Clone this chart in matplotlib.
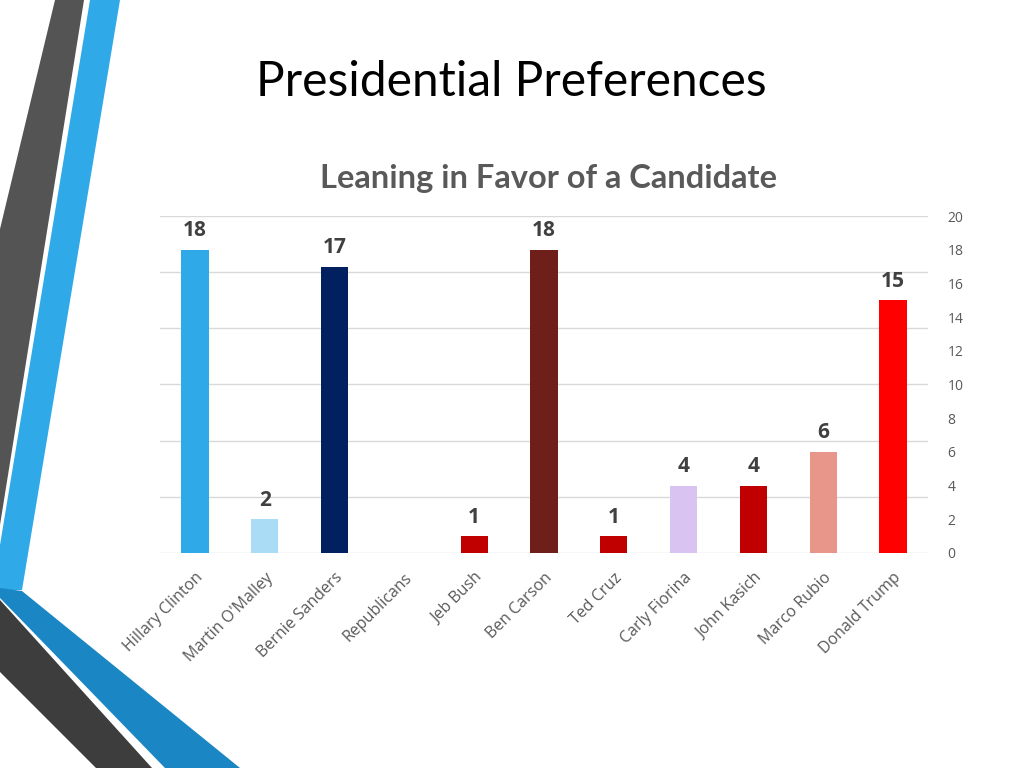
import matplotlib
matplotlib.use('Agg')
import matplotlib.pyplot as plt
from matplotlib.patches import Polygon
import numpy as np

candidats = ['Hillary Clinton', "Martin O'Malley", 'Bernie Sanders', 'Republicans',
             'Jeb Bush', 'Ben Carson', 'Ted Cruz', 'Carly Fiorina', 'John Kasich',
             'Marco Rubio', 'Donald Trump']
votes = [18, 2, 17, 0, 1, 18, 1, 4, 4, 6, 15]
couleurs = ['#2fa9e8', '#aadcf5', '#002060', '#ffffff', '#c00000', '#6f1f1a',
            '#c00000', '#d9c3f0', '#c00000', '#e8968a', '#ff0000']
ticks_droite = list(range(0, 21, 2))

fig = plt.figure(figsize=(10.24, 7.68), dpi=100)

# decor a gauche (coordonnees en pixels)
def px(pts):
    return [(x / 1024, 1 - y / 768) for x, y in pts]

formes = [
    ([(55, 0), (84, 0), (0, 525), (0, 229)], '#545454'),
    ([(90, 0), (120, 0), (22, 590), (0, 590), (0, 545)], '#2fa9e8'),
    ([(0, 588), (22, 591), (240, 768), (165, 768), (0, 598)], '#1a86c4'),
    ([(0, 600), (152, 768), (96, 768), (0, 672)], '#3d3d3d'),
]
for pts, c in formes:
    fig.add_artist(Polygon(px(pts), closed=True, facecolor=c, edgecolor='none',
                           transform=fig.transFigure, zorder=0))

fig.text(0.4995, 0.893, 'Presidential Preferences', ha='center', va='center',
         fontsize=34.5, family='Lato', color='black')
fig.text(0.5352, 0.768, 'Leaning in Favor of a Candidate', ha='center', va='center',
         fontsize=23.5, family='Lato', fontweight='bold', color='#595959')

ax = fig.add_axes([0.15625, 0.27995, 0.75, 0.4388])
x = np.arange(len(candidats))
barres = ax.bar(x, votes, width=0.39, color=couleurs, zorder=3)

for xi, v in zip(x, votes):
    if v > 0:
        ax.text(xi, v + 0.5, str(v), ha='center', va='bottom', fontsize=15,
                fontweight='bold', family='Open Sans', color='#404040')

# lignes de grille (axe principal cache)
for g in np.linspace(0, 20, 7):
    ax.axhline(g, color='#d9d9d9', lw=1, zorder=1)

ax.set_xlim(-0.5, len(candidats) - 0.5)
ax.set_ylim(0, 20)
ax.yaxis.tick_right()
ax.set_yticks(ticks_droite)
ax.tick_params(axis='y', length=0, pad=14, labelsize=10, labelcolor='#595959')
ax.set_xticks(x)
ax.set_xticklabels(candidats, rotation=45, ha='right', rotation_mode='anchor',
                   fontsize=11.5, family='Open Sans', color='#595959')
ax.tick_params(axis='x', length=0, pad=12)
for lab in ax.get_yticklabels():
    lab.set_family('Open Sans')
for s in ax.spines.values():
    s.set_visible(False)

fig.savefig('out.png', dpi=100)
